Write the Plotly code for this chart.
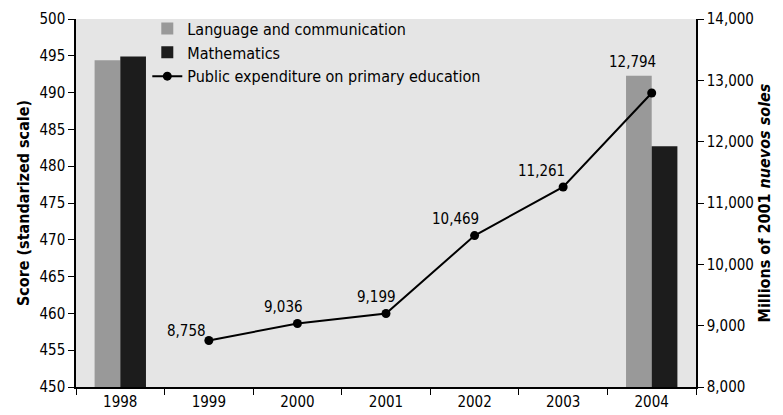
import plotly.graph_objects as go

years = ["1998", "1999", "2000", "2001", "2002", "2003", "2004"]

# Test scores (standardized scale), only measured in 1998 and 2004
language = [494.4, None, None, None, None, None, 492.3]
mathematics = [494.9, None, None, None, None, None, 482.7]

# Public expenditure on primary education, millions of 2001 nuevos soles
exp_years = ["1999", "2000", "2001", "2002", "2003", "2004"]
expenditure = [8758, 9036, 9199, 10469, 11261, 12794]

# label offsets (pixels) for the expenditure values
label_dx = [-22, -14, -10, -19, -22, -19]
label_dy = [10, 16, 16, 17, 16, 31]

FONT = "DejaVu Sans Condensed, Liberation Sans Narrow, Roboto, sans-serif"

fig = go.Figure()
fig.add_trace(go.Bar(
    x=years, y=language, name="Language and communication",
    marker=dict(color="#999999", line=dict(width=0)),
))
fig.add_trace(go.Bar(
    x=years, y=mathematics, name="Mathematics",
    marker=dict(color="#1c1c1c", line=dict(width=0)),
))
fig.add_trace(go.Scatter(
    x=exp_years, y=expenditure, name="Public expenditure on primary education",
    mode="lines+markers", yaxis="y2",
    line=dict(color="black", width=2),
    marker=dict(color="black", size=9),
))

for yr, v, dx, dy in zip(exp_years, expenditure, label_dx, label_dy):
    fig.add_annotation(
        x=years.index(yr), y=v, xref="x", yref="y2", text=f"{v:,}", showarrow=False,
        xshift=dx, yshift=dy, font=dict(size=15, color="black", family=FONT),
    )

fig.update_layout(
    width=783, height=415,
    margin=dict(l=76, r=87, t=12, b=28),
    paper_bgcolor="white", plot_bgcolor="#e5e5e5",
    font=dict(family=FONT, size=15, color="black"),
    barmode="group", bargap=0.42, bargroupgap=0,
    showlegend=True,
    legend=dict(
        x=0.115, y=1.02, xanchor="left", yanchor="top",
        bgcolor="rgba(0,0,0,0)", font=dict(size=16),
        tracegroupgap=0, itemwidth=30,
    ),
    xaxis=dict(
        type="category", range=[-0.5, 6.5], automargin=False,
        showline=True, linecolor="black", linewidth=1.5,
        ticks="outside", tickson="boundaries", ticklen=6, tickcolor="black",
        showgrid=False, tickfont=dict(size=15),
    ),
    yaxis=dict(
        range=[450, 500], dtick=5, automargin=False,
        showline=True, linecolor="black", linewidth=1.5,
        ticks="outside", ticklen=6, tickcolor="black",
        showgrid=False, zeroline=False, tickfont=dict(size=15),
        title=dict(text="<b>Score (standarized scale)</b>", font=dict(size=16), standoff=6),
    ),
    yaxis2=dict(
        range=[8000, 14000], dtick=1000, tickformat=",", automargin=False,
        overlaying="y", side="right",
        showline=True, linecolor="black", linewidth=1.5,
        ticks="outside", ticklen=6, tickcolor="black",
        showgrid=False, zeroline=False, tickfont=dict(size=15),
        title=dict(text="<b>Millions of 2001 <i>nuevos soles</i></b>", font=dict(size=16), standoff=6),
    ),
)

fig.write_html("out.html")
